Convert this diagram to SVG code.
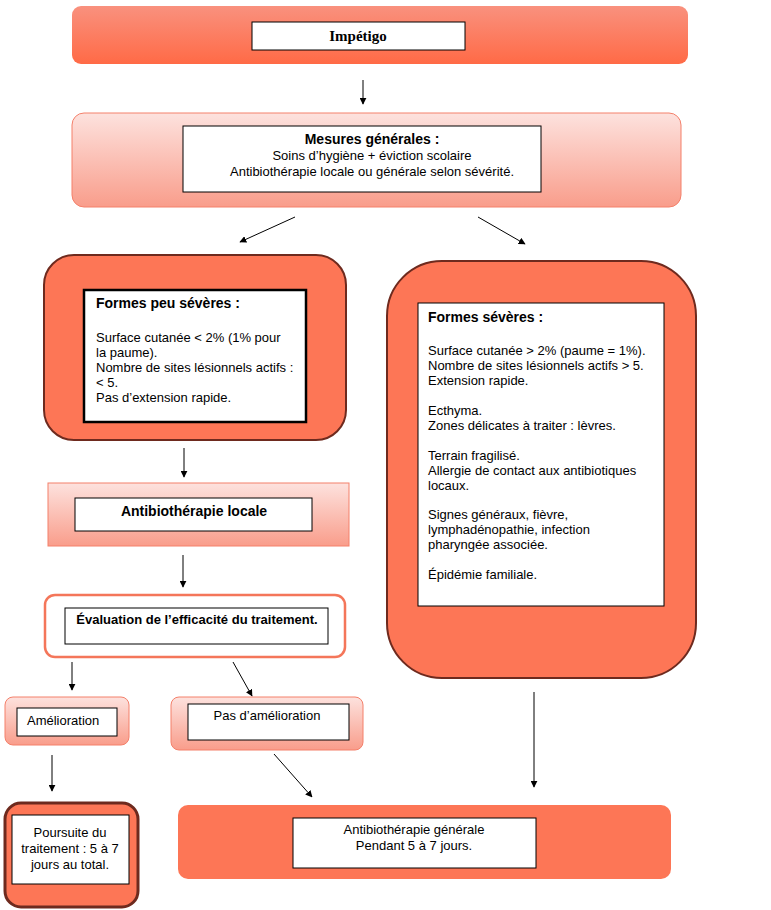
<svg xmlns="http://www.w3.org/2000/svg" width="771" height="910" viewBox="0 0 771 910">
<defs>
<linearGradient id="gTop" x1="0" y1="0" x2="0" y2="1"><stop offset="0" stop-color="#F9917E"/><stop offset="1" stop-color="#FF6A46"/></linearGradient>
<linearGradient id="gPink" x1="0" y1="0" x2="0" y2="1"><stop offset="0" stop-color="#FDE2DE"/><stop offset="1" stop-color="#F99D8B"/></linearGradient>
<marker id="ah" viewBox="0 0 10 10" refX="9" refY="5" markerWidth="7" markerHeight="7" markerUnits="userSpaceOnUse" orient="auto"><path d="M0,0 L10,5 L0,10 z" fill="#000"/></marker>
<style>
text{font-family:"Liberation Sans",Arial,sans-serif;font-size:13px;fill:#000}
.b{font-weight:bold;font-size:14px}
.s{font-family:"Liberation Serif","Times New Roman",serif;font-weight:bold;font-size:15px}
.c{text-anchor:middle}
.in{fill:#fff;stroke:#000;stroke-width:1}
.dark{fill:#FD7656;stroke:#6E2A1E;stroke-width:2}
.pink{fill:url(#gPink);stroke:#F4806A;stroke-width:1}
.conn line{stroke:#000;stroke-width:1;marker-end:url(#ah)}
</style>
</defs>
<g id="n-impetigo">
<rect x="72" y="6" width="616" height="58" rx="9" fill="url(#gTop)"/>
<rect class="in" x="252" y="22" width="213" height="28"/>
<text class="s c" x="358" y="41">Impétigo</text>
</g>
<g id="n-mesures">
<rect class="pink" x="72" y="113" width="609" height="94" rx="12"/>
<rect class="in" x="183" y="126" width="358" height="66"/>
<text class="c b" x="372" y="144">Mesures générales :</text>
<text class="c" x="372" y="160">Soins d’hygiène + éviction scolaire</text>
<text class="c" x="372" y="176">Antibiothérapie locale ou générale selon sévérité.</text>
</g>
<g id="n-peu">
<rect class="dark" x="44" y="255" width="302" height="185" rx="30"/>
<rect x="84" y="290" width="222" height="132" fill="#fff" stroke="#000" stroke-width="2.5"/>
<text class="b" x="96" y="308">Formes peu sévères :</text>
<text x="96" y="342">Surface cutanée &lt; 2% (1% pour</text>
<text x="96" y="357">la paume).</text>
<text x="96" y="372">Nombre de sites lésionnels actifs :</text>
<text x="96" y="387">&lt; 5.</text>
<text x="96" y="402">Pas d’extension rapide.</text>
</g>
<g id="n-locale">
<rect class="pink" x="48" y="483" width="301" height="63"/>
<rect class="in" x="75" y="498" width="237" height="33"/>
<text class="c b" x="194" y="516">Antibiothérapie locale</text>
</g>
<g id="n-eval">
<rect x="45" y="595" width="300" height="62" rx="10" fill="#fff" stroke="#F4765A" stroke-width="2.5"/>
<rect class="in" x="65" y="608" width="263" height="36"/>
<text class="c b" x="197" y="624" style="font-size:13px">Évaluation de l’efficacité du traitement.</text>
</g>
<g id="n-amelio">
<rect class="pink" x="5" y="697" width="124" height="48" rx="8"/>
<rect class="in" x="17" y="708" width="100" height="28"/>
<text x="27" y="725">Amélioration</text>
</g>
<g id="n-pas">
<rect class="pink" x="171" y="697" width="192" height="53" rx="8"/>
<rect class="in" x="188" y="704" width="161" height="36"/>
<text class="c" x="267" y="720">Pas d’amélioration</text>
</g>
<g id="n-severes">
<rect class="dark" x="387" y="261" width="309" height="417" rx="55"/>
<rect class="in" x="418" y="303" width="246" height="303"/>
<text class="b" x="428" y="322">Formes sévères :</text>
<text x="428" y="355">Surface cutanée &gt; 2% (paume = 1%).</text>
<text x="428" y="370">Nombre de sites lésionnels actifs &gt; 5.</text>
<text x="428" y="385">Extension rapide.</text>
<text x="428" y="415">Ecthyma.</text>
<text x="428" y="430">Zones délicates à traiter : lèvres.</text>
<text x="428" y="460">Terrain fragilisé.</text>
<text x="428" y="475">Allergie de contact aux antibiotiques</text>
<text x="428" y="490">locaux.</text>
<text x="428" y="519">Signes généraux, fièvre,</text>
<text x="428" y="534">lymphadénopathie, infection</text>
<text x="428" y="549">pharyngée associée.</text>
<text x="428" y="579">Épidémie familiale.</text>
</g>
<g id="n-poursuite">
<rect x="5" y="803" width="133" height="104" rx="16" fill="#FD7656" stroke="#6E2A1E" stroke-width="3"/>
<rect class="in" x="12" y="815" width="117" height="69"/>
<text class="c" x="70" y="837">Poursuite du</text>
<text class="c" x="70" y="853">traitement : 5 à 7</text>
<text class="c" x="70" y="869">jours au total.</text>
</g>
<g id="n-generale">
<rect x="178" y="805" width="493" height="74" rx="10" fill="#FD7656"/>
<rect class="in" x="293" y="818" width="243" height="50"/>
<text class="c" x="414" y="834">Antibiothérapie générale</text>
<text class="c" x="414" y="850">Pendant 5 à 7 jours.</text>
</g>
<g id="connectors" class="conn">
<line x1="363" y1="80" x2="363" y2="104"/>
<line x1="295" y1="217" x2="240" y2="242"/>
<line x1="478" y1="217" x2="525" y2="244"/>
<line x1="184" y1="448" x2="184" y2="477"/>
<line x1="183" y1="555" x2="183" y2="587"/>
<line x1="72" y1="662" x2="72" y2="690"/>
<line x1="233" y1="662" x2="252" y2="696"/>
<line x1="52" y1="755" x2="52" y2="791"/>
<line x1="274" y1="754" x2="312" y2="797"/>
<line x1="534" y1="692" x2="534" y2="787"/>
</g>
</svg>
